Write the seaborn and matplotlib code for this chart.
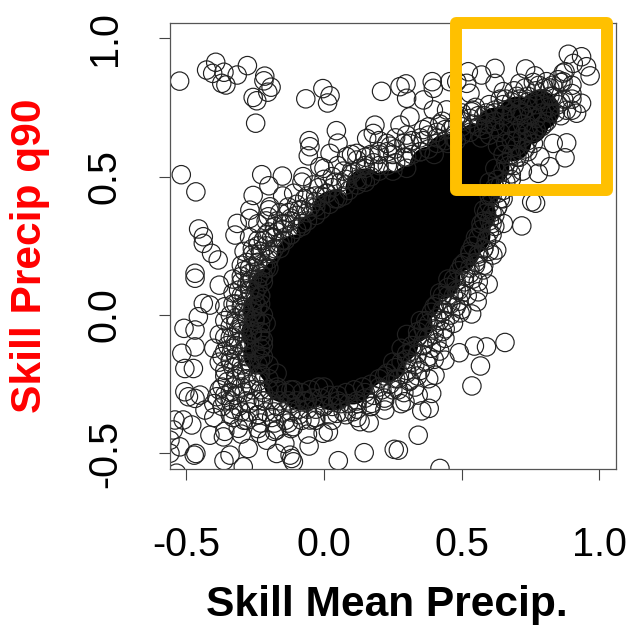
import matplotlib
matplotlib.use('Agg')
import matplotlib.pyplot as plt
from matplotlib.patches import Rectangle
import pandas as pd
import seaborn as sns

# isolated circles
sparse_points = [
    (-0.524,0.845),(-0.426,0.885),(-0.393,0.913),(-0.404,0.873),(-0.363,0.877),(-0.371,0.837),(-0.356,0.831),
    (-0.315,0.867),(-0.278,0.901),(-0.215,0.863),(-0.218,0.846),(-0.192,0.823),(-0.204,0.805),(-0.257,0.786),
    (-0.244,0.774),(-0.248,0.693),(-0.066,0.781),(-0.004,0.818),(0.022,0.792),(0.013,0.766),(0.209,0.808),
    (0.276,0.825),(0.045,0.666),(-0.054,0.630),(-0.051,0.608),(-0.057,0.575),(0.051,0.621),(0.185,0.686),
    (0.179,0.656),(-0.518,0.507),(-0.465,0.445),(-0.226,0.507),(-0.151,0.502),(-0.257,0.432),(-0.200,0.467),
    (-0.455,0.311),(-0.438,0.283),(-0.315,0.331),(-0.269,0.379),(-0.196,0.391),(-0.323,0.289),(-0.269,0.349),
    (-0.202,0.355),(-0.076,0.500),(-0.015,0.536),(0.022,0.584),(0.082,0.572),(0.155,0.638),(0.119,0.584),
    (0.228,0.620),(0.276,0.686),(0.298,0.835),(0.393,0.843),(0.397,0.819),(0.361,0.777),(0.300,0.783),
    (0.482,0.843),(0.524,0.879),(0.518,0.837),(0.621,0.891),(0.572,0.867),(0.621,0.837),(0.732,0.889),
    (0.766,0.864),(0.887,0.942),(0.935,0.933),(0.905,0.909),(0.966,0.864),(0.953,0.897),(0.875,0.879),
    (0.868,0.874),(0.868,0.843),(0.935,0.765),(0.917,0.729),(0.881,0.622),(0.875,0.568),(0.820,0.536),
    (0.784,0.572),(0.832,0.620),(0.778,0.512),(0.768,0.404),(0.718,0.322),(0.754,0.409),(0.651,0.331),
    (0.536,0.734),(0.530,0.801),(0.457,0.843),(0.651,0.807),(0.711,0.837),(0.808,0.843),(0.397,0.741),
    (0.312,0.716),(0.445,0.741),(-0.438,0.259),(-0.408,0.223),(-0.384,0.199),(-0.468,0.151),(-0.468,0.133),
    (-0.380,0.108),(-0.438,0.042),(-0.414,0.036),(-0.456,-0.006),(-0.508,-0.048),(-0.468,-0.054),(-0.516,-0.138),
    (-0.468,-0.115),(-0.505,-0.193),(-0.474,-0.193),(-0.505,-0.277),(-0.492,-0.295),(-0.468,-0.301),(-0.541,-0.379),
    (-0.480,-0.397),(-0.547,-0.415),(-0.523,-0.476),(-0.559,-0.499),(-0.465,-0.500),(-0.471,-0.506),(-0.535,-0.571),
    (-0.363,-0.526),(-0.341,-0.506),(-0.293,-0.548),(-0.275,-0.482),(-0.208,-0.452),(-0.172,-0.500),(-0.123,-0.506),
    (-0.111,-0.530),(-0.117,-0.518),(-0.142,-0.464),(-0.054,-0.473),(0.016,-0.422),(-0.003,-0.427),(0.052,-0.526),
    (0.146,-0.497),(0.255,-0.485),(0.164,-0.389),(0.131,-0.385),(0.221,-0.343),(0.173,-0.319),(-0.414,-0.434),
    (-0.365,-0.440),(-0.311,-0.409),(-0.432,-0.343),(-0.389,-0.295),(-0.450,-0.289),(-0.511,-0.379),(0.106,-0.349),
    (-0.051,-0.379),(-0.232,-0.427),(-0.172,-0.415),(-0.111,-0.403),(0.046,-0.355),(-0.559,-0.452),(0.627,0.235),
    (0.596,0.112),(0.556,0.048),(0.560,0.084),(0.536,0.004),(0.494,0.008),(0.657,-0.099),(0.590,-0.115),
    (0.546,-0.112),(0.491,-0.136),(0.568,-0.184),(0.537,-0.256),(0.439,-0.084),(0.439,-0.163),(0.403,-0.217),
    (0.391,-0.283),(0.382,-0.337),(0.355,-0.346),(0.342,-0.434),(0.421,-0.554),(0.270,-0.488),(0.294,-0.313),
    (0.342,-0.289),(0.312,-0.235),(0.578,0.163),(0.613,0.217),
]

# circles around the solid part of the cloud
edge_points = [
    (-0.36,-0.42),(-0.30,-0.43),(-0.24,-0.41),(-0.18,-0.42),(-0.12,-0.41),(-0.06,-0.43),
    (-0.40,-0.37),(-0.34,-0.36),(-0.29,-0.38),(-0.24,-0.36),(-0.19,-0.37),(-0.14,-0.38),(-0.09,-0.36),(-0.03,-0.37),(0.03,-0.38),(0.08,-0.36),(0.12,-0.37),
    (-0.40,-0.32),(-0.36,-0.31),(-0.31,-0.33),(-0.27,-0.32),(-0.22,-0.31),(-0.17,-0.33),(-0.12,-0.32),(-0.06,-0.31),(0.0,-0.33),(0.05,-0.31),(0.12,-0.32),(0.17,-0.33),(0.22,-0.31),(0.28,-0.32),
    (-0.38,-0.27),(-0.34,-0.28),(-0.30,-0.26),(-0.26,-0.27),(-0.22,-0.28),(-0.17,-0.26),(-0.12,-0.27),(0.15,-0.28),(0.20,-0.26),(0.25,-0.27),(0.29,-0.28),(0.33,-0.26),
    (-0.36,-0.22),(-0.32,-0.23),(-0.28,-0.21),(-0.24,-0.22),(-0.20,-0.23),(-0.17,-0.21),(0.22,-0.22),(0.26,-0.23),(0.30,-0.21),(0.34,-0.22),(0.38,-0.23),
    (-0.38,-0.17),(-0.34,-0.16),(-0.30,-0.18),(-0.27,-0.17),(-0.23,-0.16),(-0.20,-0.18),(0.25,-0.17),(0.30,-0.16),(0.33,-0.18),(0.37,-0.17),(0.40,-0.16),
    (-0.40,-0.12),(-0.36,-0.13),(-0.32,-0.11),(-0.28,-0.12),(-0.25,-0.13),(-0.22,-0.11),(0.28,-0.12),(0.32,-0.13),(0.36,-0.11),(0.39,-0.12),(0.42,-0.13),
    (-0.38,-0.07),(-0.34,-0.08),(-0.30,-0.06),(-0.26,-0.07),(-0.23,-0.08),(0.30,-0.07),(0.34,-0.06),(0.37,-0.08),(0.40,-0.07),(0.43,-0.06),
    (-0.36,-0.02),(-0.32,-0.03),(-0.28,-0.01),(-0.25,-0.02),(-0.23,-0.03),(0.35,-0.02),(0.38,-0.03),(0.41,-0.01),(0.44,-0.02),(0.47,-0.03),
    (-0.36,0.03),(-0.32,0.04),(-0.29,0.02),(-0.26,0.03),(-0.23,0.04),(0.40,0.03),(0.43,0.02),(0.46,0.04),(0.48,0.03),(0.50,0.02),
    (-0.33,0.08),(-0.30,0.07),(-0.27,0.09),(-0.25,0.08),(-0.23,0.07),(0.42,0.08),(0.45,0.07),(0.48,0.09),(0.50,0.08),(0.52,0.07),
    (-0.33,0.13),(-0.30,0.14),(-0.27,0.12),(-0.24,0.13),(-0.22,0.14),(0.45,0.13),(0.48,0.12),(0.51,0.14),(0.54,0.13),(0.56,0.12),
    (-0.30,0.18),(-0.27,0.17),(-0.24,0.19),(-0.22,0.18),(-0.20,0.17),(0.50,0.18),(0.53,0.17),(0.55,0.19),(0.58,0.18),
    (-0.29,0.23),(-0.26,0.24),(-0.23,0.22),(-0.20,0.23),(-0.16,0.24),(0.53,0.23),(0.56,0.22),(0.58,0.24),(0.60,0.23),
    (-0.27,0.28),(-0.24,0.27),(-0.21,0.29),(-0.18,0.28),(-0.15,0.27),(-0.12,0.29),(0.56,0.28),(0.59,0.27),(0.61,0.29),
    (-0.24,0.33),(-0.21,0.34),(-0.18,0.32),(-0.15,0.33),(-0.12,0.34),(-0.08,0.32),(0.57,0.33),(0.60,0.34),(0.62,0.32),
    (-0.20,0.38),(-0.16,0.37),(-0.13,0.39),(-0.09,0.38),(-0.06,0.37),(-0.03,0.39),(0.58,0.38),(0.61,0.37),(0.63,0.39),
    (-0.15,0.43),(-0.11,0.44),(-0.07,0.42),(-0.03,0.43),(0.01,0.44),(0.05,0.42),(0.60,0.43),(0.63,0.44),(0.65,0.42),
    (-0.08,0.48),(-0.04,0.47),(0.0,0.49),(0.04,0.48),(0.08,0.47),(0.12,0.49),(0.15,0.48),(0.60,0.48),(0.64,0.47),(0.68,0.49),
    (0.0,0.53),(0.05,0.54),(0.10,0.52),(0.15,0.53),(0.20,0.54),(0.25,0.52),(0.30,0.53),(0.62,0.53),(0.67,0.54),(0.72,0.52),
    (0.10,0.58),(0.15,0.57),(0.20,0.59),(0.25,0.58),(0.30,0.57),(0.35,0.59),(0.40,0.58),(0.65,0.58),(0.70,0.57),(0.74,0.59),
    (0.20,0.63),(0.26,0.64),(0.31,0.62),(0.36,0.63),(0.41,0.64),(0.45,0.62),(0.48,0.63),(0.68,0.63),(0.72,0.64),(0.76,0.62),
    (0.38,0.68),(0.42,0.69),(0.46,0.67),(0.50,0.68),(0.54,0.69),(0.58,0.67),(0.62,0.68),(0.74,0.68),(0.77,0.67),(0.80,0.69),
    (0.50,0.73),(0.54,0.74),(0.58,0.72),(0.62,0.73),(0.66,0.74),(0.70,0.72),(0.72,0.73),(0.82,0.73),(0.86,0.72),(0.90,0.74),
    (0.66,0.78),(0.70,0.79),(0.74,0.77),(0.78,0.78),(0.82,0.79),(0.86,0.77),(0.90,0.78),(0.78,0.83),(0.82,0.82),(0.86,0.84),(0.90,0.83),
]

# tightly packed circles just outside the solid part
dense_points = [
    (-0.33,-0.34),(-0.34,-0.31),(-0.32,-0.29),(-0.33,-0.26),(-0.35,-0.24),(-0.32,-0.22),(-0.33,-0.19),(-0.34,-0.17),(-0.32,-0.15),
    (-0.33,-0.12),(-0.31,-0.10),(-0.33,-0.08),(-0.31,-0.05),(-0.30,-0.03),(-0.32,-0.01),(-0.29,0.01),(-0.30,0.03),(-0.28,0.05),
    (-0.29,0.07),(-0.27,0.09),(-0.28,0.11),(-0.26,0.13),(-0.27,0.15),(-0.25,0.17),(-0.24,0.19),(-0.25,0.21),
    (-0.23,0.23),(-0.21,0.25),(-0.22,0.27),(-0.19,0.28),(-0.17,0.30),(-0.15,0.31),(-0.14,0.33),(-0.12,0.35),(-0.10,0.36),(-0.08,0.38),
    (-0.05,0.39),(-0.03,0.41),(-0.01,0.43),(0.01,0.44),(0.03,0.46),(0.06,0.48),(0.08,0.49),(0.10,0.51),(0.13,0.53),(0.15,0.54),
    (0.18,0.55),(0.20,0.58),(0.23,0.59),(0.26,0.60),(0.29,0.62),(0.32,0.63),(0.35,0.64),(0.38,0.65),(0.41,0.66),(0.44,0.67),
    (0.47,0.68),(0.50,0.70),(0.53,0.71),(0.56,0.72),(0.59,0.73),(0.62,0.74),(0.65,0.76),(0.68,0.77),(0.71,0.78),(0.74,0.79),
    (0.77,0.81),(0.80,0.82),(0.83,0.83),(0.85,0.85),
    (0.90,0.80),(0.87,0.78),(0.85,0.76),(0.88,0.74),(0.84,0.73),(0.81,0.70),(0.79,0.68),(0.76,0.66),(0.74,0.63),(0.73,0.60),
    (0.71,0.57),(0.69,0.54),(0.68,0.51),(0.66,0.48),(0.65,0.45),(0.64,0.42),(0.63,0.39),(0.62,0.36),(0.61,0.33),(0.60,0.30),
    (0.59,0.27),(0.58,0.24),(0.56,0.21),(0.55,0.18),(0.53,0.15),(0.51,0.12),(0.49,0.09),(0.47,0.07),(0.45,0.04),(0.43,0.01),
    (0.42,-0.02),(0.40,-0.05),(0.38,-0.08),(0.36,-0.11),(0.34,-0.14),(0.32,-0.17),(0.30,-0.20),(0.27,-0.23),(0.24,-0.25),(0.21,-0.27),
    (0.18,-0.29),(0.15,-0.30),(0.12,-0.31),(0.09,-0.32),(0.06,-0.32),(0.03,-0.33),(0.0,-0.33),(-0.03,-0.34),(-0.06,-0.34),(-0.09,-0.34),
    (-0.12,-0.35),(-0.15,-0.35),(-0.18,-0.35),(-0.21,-0.35),(-0.24,-0.36),(-0.27,-0.35),(-0.30,-0.35),
    (-0.28,-0.31),(-0.29,-0.28),(-0.27,-0.25),(-0.28,-0.23),(-0.30,-0.20),(-0.27,-0.18),(-0.28,-0.15),(-0.29,-0.13),(-0.27,-0.11),
    (-0.28,-0.09),(-0.26,-0.06),(-0.27,-0.04),(-0.25,-0.01),(-0.26,0.01),(-0.24,0.03),(-0.25,0.05),(-0.23,0.07),(-0.24,0.10),
    (-0.22,0.12),(-0.23,0.15),(-0.21,0.17),(-0.20,0.20),(-0.19,0.22),(-0.18,0.24),(-0.16,0.26),(-0.14,0.27),(-0.12,0.29),(-0.10,0.31),
    (-0.08,0.33),(-0.06,0.34),(-0.03,0.36),(-0.01,0.38),(0.02,0.40),(0.04,0.42),(0.07,0.43),(0.09,0.45),(0.12,0.47),(0.14,0.49),
    (0.17,0.50),(0.20,0.52),(0.23,0.54),(0.26,0.55),(0.29,0.57),(0.32,0.58),(0.35,0.59),(0.38,0.60),(0.41,0.62),(0.44,0.63),
    (0.47,0.64),(0.50,0.65),(0.53,0.66),(0.56,0.68),(0.59,0.69),(0.62,0.70),(0.65,0.72),(0.68,0.73),(0.71,0.74),(0.74,0.75),
    (0.77,0.76),(0.80,0.78),(0.83,0.79),(0.82,0.75),(0.79,0.73),(0.77,0.71),(0.75,0.72),(0.72,0.69),(0.74,0.66),(0.70,0.66),
    (0.70,0.61),(0.68,0.58),(0.66,0.55),(0.65,0.52),(0.63,0.49),(0.62,0.46),(0.61,0.43),(0.60,0.40),(0.59,0.37),(0.58,0.34),
    (0.57,0.31),(0.55,0.28),(0.54,0.25),(0.53,0.22),(0.51,0.19),(0.49,0.16),(0.47,0.13),(0.45,0.10),(0.43,0.07),(0.41,0.04),
    (0.39,0.01),(0.37,-0.02),(0.36,-0.05),(0.34,-0.08),(0.32,-0.11),(0.30,-0.14),(0.28,-0.17),(0.26,-0.19),(0.23,-0.21),(0.20,-0.23),
    (0.17,-0.25),(0.14,-0.26),(0.11,-0.27),(0.08,-0.28),(0.05,-0.29),(0.02,-0.29),(-0.01,-0.30),(-0.04,-0.30),(-0.07,-0.31),(-0.10,-0.31),
    (-0.13,-0.31),(-0.16,-0.31),(-0.19,-0.31),(-0.22,-0.31),(-0.25,-0.31),
    (-0.23,-0.27),(-0.24,-0.24),(-0.23,-0.21),(-0.24,-0.18),(-0.22,-0.15),(-0.23,-0.12),(-0.22,-0.09),(-0.23,-0.06),(-0.21,-0.03),(-0.22,0.0),
    (-0.20,-0.27),(-0.17,-0.27),(-0.14,-0.28),(-0.11,-0.27),(-0.08,-0.28),(-0.05,-0.27),(-0.02,-0.26),(0.0,-0.26),
    (0.60,0.65),(0.64,0.66),(0.67,0.69),(0.57,0.64),(0.63,0.61),(0.66,0.62),
    (-0.37,-0.33),(-0.36,-0.29),(-0.37,-0.26),(-0.36,-0.20),(-0.37,-0.15),(-0.35,-0.11),(-0.36,-0.08),(-0.34,-0.04),(-0.34,0.0),(-0.33,0.04),
    (-0.31,0.09),(-0.30,0.12),(-0.29,0.16),(-0.28,0.19),(-0.26,0.22),(-0.24,0.25),(-0.20,0.30),(-0.17,0.34),(-0.13,0.37),(-0.10,0.40),
    (-0.06,0.43),(-0.02,0.46),(0.03,0.50),(0.07,0.52),(0.12,0.56),(0.17,0.58),(0.24,0.61),(0.30,0.65),(0.36,0.67),(0.43,0.70),
    (0.49,0.72),(0.55,0.75),(0.60,0.76),(0.64,0.78),(0.69,0.81),(0.73,0.82),(0.76,0.84),
    (-0.33,-0.37),(-0.28,-0.38),(-0.23,-0.39),(-0.18,-0.39),(-0.13,-0.39),(-0.08,-0.38),(-0.03,-0.38),(0.02,-0.36),(0.07,-0.35),(0.12,-0.34),
    (0.17,-0.33),(0.22,-0.30),(0.27,-0.27),(0.31,-0.24),(0.35,-0.20),(0.38,-0.15),(0.41,-0.10),(0.44,-0.05),(0.46,0.0),(0.49,0.05),
]

# the overplotted middle of the cloud, where single circles merge into solid black
core_points = [
    (-0.15,-0.24),(-0.08,-0.27),(-0.05,-0.26),(0.03,-0.27),(0.10,-0.25),
    (-0.22,-0.14),(-0.17,-0.18),(-0.09,-0.19),(-0.01,-0.17),(0.07,-0.18),(0.15,-0.19),(0.22,-0.17),
    (-0.23,-0.06),(-0.18,-0.10),(-0.10,-0.11),(-0.02,-0.09),(0.06,-0.10),(0.14,-0.11),(0.21,-0.09),(0.27,-0.10),
    (-0.22,0.02),(-0.18,-0.02),(-0.10,-0.03),(-0.02,-0.01),(0.06,-0.02),(0.14,-0.03),(0.22,-0.01),(0.29,-0.02),(0.32,-0.03),
    (-0.20,0.10),(-0.17,0.06),(-0.09,0.05),(-0.01,0.07),(0.07,0.06),(0.15,0.05),(0.23,0.07),(0.30,0.06),(0.35,0.05),
    (-0.15,0.14),(-0.07,0.13),(0.01,0.15),(0.09,0.14),(0.17,0.13),(0.25,0.15),(0.33,0.14),(0.42,0.13),
    (-0.10,0.22),(-0.02,0.21),(0.06,0.23),(0.14,0.22),(0.22,0.21),(0.30,0.23),(0.38,0.22),(0.45,0.21),(0.49,0.23),
    (-0.03,0.30),(0.05,0.29),(0.13,0.31),(0.21,0.30),(0.29,0.29),(0.37,0.31),(0.45,0.30),(0.53,0.29),
    (0.03,0.38),(0.11,0.37),(0.19,0.39),(0.27,0.38),(0.35,0.37),(0.43,0.39),(0.50,0.38),(0.55,0.37),
    (0.15,0.46),(0.23,0.45),(0.31,0.47),(0.39,0.46),(0.47,0.45),(0.53,0.47),(0.57,0.46),
    (0.38,0.54),(0.46,0.53),(0.54,0.55),(0.60,0.54),(0.44,0.58),(0.50,0.60),
    (0.55,0.62),(0.62,0.61),(0.68,0.63),(0.62,0.68),
    (0.66,0.68),(0.74,0.69),(0.70,0.72),(0.78,0.74),
]
tick_values = [-0.5, 0.0, 0.5, 1.0]
tick_labels = ['-0.5', '0.0', '0.5', '1.0']

sparse = pd.DataFrame(sparse_points + edge_points + dense_points, columns=['mean_skill', 'q90_skill'])
core = pd.DataFrame(core_points, columns=['mean_skill', 'q90_skill'])

sns.set_style('ticks')
plt.rcParams['font.family'] = ['Liberation Sans', 'DejaVu Sans']
plt.rcParams['text.color'] = 'black'
plt.rcParams['xtick.labelcolor'] = 'black'
plt.rcParams['ytick.labelcolor'] = 'black'

fig = plt.figure(figsize=(6.32, 6.27), dpi=100)
ax = fig.add_axes([169.7 / 632, 158 / 627, 446.3 / 632, 446.3 / 627])

sns.scatterplot(data=core, x='mean_skill', y='q90_skill', s=830, color='black', edgecolor='black', linewidth=0, ax=ax)
sns.scatterplot(data=sparse, x='mean_skill', y='q90_skill', s=175, marker='o', facecolors='none', edgecolor='#222222', linewidth=0.85, ax=ax)

ax.set_xlim(-0.56, 1.06)
ax.set_ylim(-0.556, 1.056)
ax.set_xticks(tick_values, tick_labels)
ax.set_yticks(tick_values, tick_labels)
ax.tick_params(axis='x', length=8, width=0.8, labelsize=28.5, pad=33, color='#444444')
ax.tick_params(axis='y', length=8, width=0.8, labelsize=28.5, pad=25, color='#444444')
for label in ax.get_yticklabels():
    label.set_rotation(90)
    label.set_va('center')
for spine in ax.spines.values():
    spine.set_visible(True)
    spine.set_linewidth(0.9)
    spine.set_color('#555555')

ax.set_xlabel('')
ax.set_ylabel('')
fig.text(387 / 632, 1 - 605 / 627, 'Skill Mean Precip.', fontsize=30.6, fontweight='bold', ha='center', va='center')
fig.text(30 / 632, 1 - 256 / 627, 'Skill Precip q90', fontsize=30.6, fontweight='bold', color='#ff0000',
         rotation=90, ha='center', va='center')

box = Rectangle((0.479, 0.452), 0.548, 0.603, fill=False, edgecolor='#ffc000', linewidth=8.6, joinstyle='round', clip_on=False, zorder=5)
ax.add_patch(box)

fig.savefig('out.png', dpi=100)
